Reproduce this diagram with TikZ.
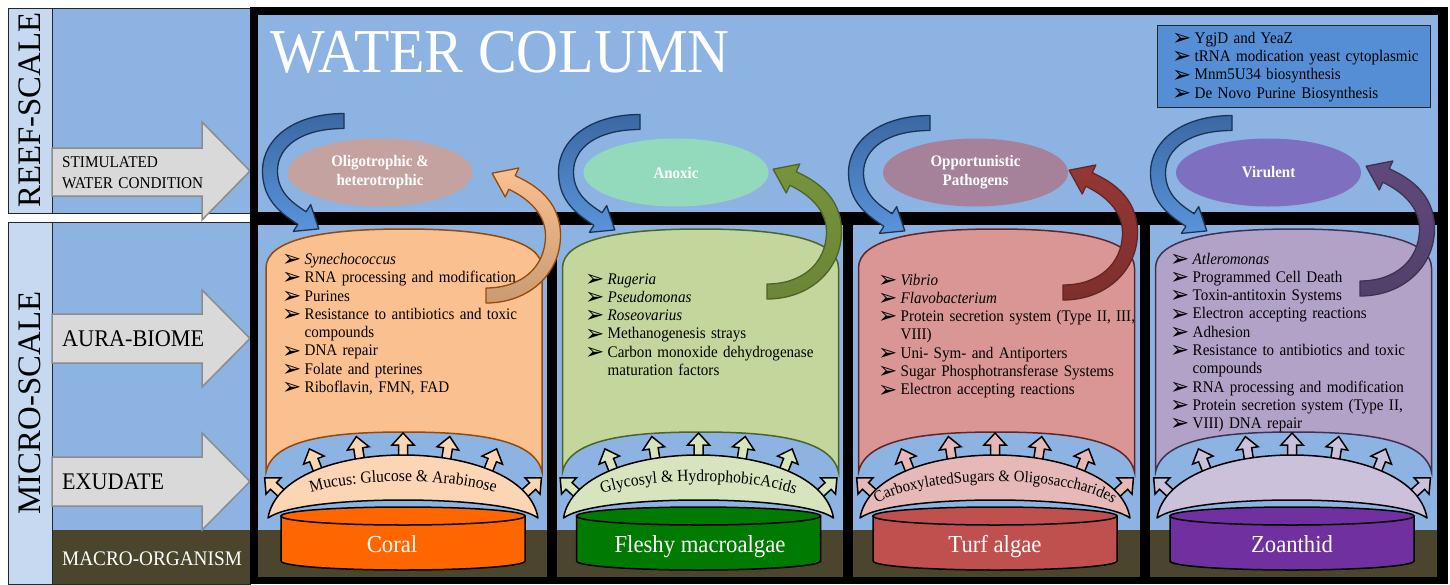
\documentclass[tikz,border=0pt]{standalone}
\usepackage{fontspec}
\setmainfont[FakeStretch=0.93]{Liberation Serif}
\newfontfamily\plainserif{Liberation Serif}
\newfontfamily\dejavu{DejaVu Sans}
\usetikzlibrary{shapes.geometric,decorations.text,decorations.markings}

\definecolor{wblue}{HTML}{8DB3E2}
\definecolor{colblue}{HTML}{C6D9F1}
\definecolor{mbrown}{HTML}{4A452C}
\definecolor{garrowfill}{HTML}{D9D9D9}
\definecolor{garrowln}{HTML}{8C8C8C}
\definecolor{boxblue}{HTML}{558ED5}
\definecolor{cfillA}{HTML}{FAC090}\definecolor{clineA}{HTML}{984807}
\definecolor{cfillB}{HTML}{C3D69B}\definecolor{clineB}{HTML}{4F6228}
\definecolor{cfillC}{HTML}{D99694}\definecolor{clineC}{HTML}{632523}
\definecolor{cfillD}{HTML}{B3A2C7}\definecolor{clineD}{HTML}{3F3151}
\definecolor{ellA}{HTML}{C4A29F}
\definecolor{ellB}{HTML}{93DABC}
\definecolor{ellC}{HTML}{A6819A}
\definecolor{ellD}{HTML}{7F6FC0}
\definecolor{cylA}{HTML}{FF6600}
\definecolor{cylB}{HTML}{007A00}
\definecolor{cylC}{HTML}{C0504D}
\definecolor{cylD}{HTML}{7030A0}
\definecolor{mfA}{HTML}{FCD5B5}
\definecolor{mfB}{HTML}{D7E4BD}
\definecolor{mfC}{HTML}{E6B9B8}
\definecolor{mfD}{HTML}{CCC1DA}
\definecolor{bluetop}{HTML}{3B68A3}
\definecolor{bluebot}{HTML}{5A94DB}
\definecolor{blueln}{HTML}{1B3454}
\definecolor{oraT}{HTML}{FAC090}\definecolor{oraB}{HTML}{C99B74}
\definecolor{grnT}{HTML}{77933C}\definecolor{grnB}{HTML}{6B8636}
\definecolor{redT}{HTML}{953735}\definecolor{redB}{HTML}{7E2F2D}
\definecolor{purT}{HTML}{60497B}\definecolor{purB}{HTML}{52406B}

\newcommand{\bu}{\makebox[22.5pt][l]{\raisebox{-2.2pt}{\dejavu\fontsize{23}{23}\selectfont\char"27A2}}}
\newcommand{\ind}{\hspace*{22.5pt}}
\newcommand{\crfont}{\fontsize{16.8}{16.8}\selectfont}
\newcommand{\crfontsm}{\fontsize{16}{16}\selectfont}

\newcommand\can[3]{%
\begin{scope}[shift={(#1,0)}]
\draw[fill=#2,draw=#3,line width=1.5pt] (-138,268) .. controls (-138,240) and (-84,229) .. (0,229)
 .. controls (84,229) and (138,240) .. (138,268) -- (138,472)
 .. controls (131,440) and (76,432) .. (0,432) .. controls (-76,432) and (-131,440) .. (-138,472) -- cycle;
\end{scope}}

\newcommand\cyl[5]{%
\begin{scope}[shift={(#1,0)}]
\draw[fill=#2,line width=1.5pt] (-122,516) -- (-122,561) .. controls (-122,566) and (-67.3,570) .. (0,570)
 .. controls (67.3,570) and (122,566) .. (122,561) -- (122,516) -- cycle;
\draw[fill=#2,line width=1.5pt] (0,516) ellipse [x radius=122, y radius=9];
\node[cyltext] (#5) at (#3,552) {#4};
\end{scope}}

\newcommand\sarr[1]{\draw[fill=#1,line width=1.5pt,line join=miter] (-4.5,3) -- (-4.5,-10) -- (-11,-10) -- (0,-22) -- (11,-10) -- (4.5,-10) -- (4.5,3) -- cycle;}

\newcommand\crescent[2]{%
\begin{scope}[shift={(#1,0)}]
\path[decorate,decoration={markings,
 mark=at position 0.09 with {\sarr{#2}},
 mark=at position 0.227 with {\sarr{#2}},
 mark=at position 0.364 with {\sarr{#2}},
 mark=at position 0.5 with {\sarr{#2}},
 mark=at position 0.636 with {\sarr{#2}},
 mark=at position 0.773 with {\sarr{#2}},
 mark=at position 0.91 with {\sarr{#2}}}]
 (-135,518) .. controls (-121,434) and (121,434) .. (135,518);
\draw[fill=#2,line width=1.5pt,line join=round] (-135,518) .. controls (-121,434) and (121,434) .. (135,518)
 .. controls (103,494) and (-103,494) .. (-135,518) -- cycle;
\end{scope}}

\newcommand\crtext[2]{%
\begin{scope}[shift={(#1,0)}]
\path[decorate,decoration={text along path,text={#2},text align=center}]
 (-127,516) .. controls (-114,470) and (114,470) .. (127,516);
\end{scope}}

\newcommand\bluearrow[2]{%
\begin{scope}[shift={(#1,#2)}]
\shadedraw[top color=bluetop,bottom color=bluebot,draw=blueln,line width=1.3pt,line join=round]
 (0,-7.5) .. controls (-49,-7.5) and (-81.5,17) .. (-81.5,50)
 .. controls (-81.5,79) and (-62.9,92.4) .. (-46.1,103.3)
 -- (-50.7,110.4) -- (-25.2,107.9) -- (-33.3,83.6) -- (-37.9,90.7)
 .. controls (-50.5,82.5) and (-66.5,72) .. (-66.5,50)
 .. controls (-66.5,25) and (-42,7.5) .. (0,7.5) -- cycle;
\end{scope}}

\newcommand\backarrow[5]{%
\begin{scope}[shift={(#1,#2)}]
\shadedraw[top color=#3,bottom color=#4,draw=#5,line width=1.3pt,line join=round]
 (0,7.5) .. controls (43,7.5) and (74.5,-22) .. (74.5,-60)
 .. controls (74.5,-97) and (45.5,-112.2) .. (29.2,-119.8)
 -- (32.8,-127.5) -- (6.1,-122.3) -- (19.2,-98.5) -- (22.8,-106.2)
 .. controls (34.6,-100.7) and (59.5,-86) .. (59.5,-60)
 .. controls (59.5,-28) and (35,-7.5) .. (0,-7.5) -- cycle;
\end{scope}}

\begin{document}
\begin{tikzpicture}[x=1pt,y=-1pt,
  listtext/.style={anchor=base west,inner sep=0pt,text width=300pt,align=left,
     font=\fontsize{16.2}{18.3}\selectfont},
  ellnode/.style={ellipse,minimum width=185pt,minimum height=68pt,inner sep=0pt,
     text=white,align=center,font=\bfseries\fontsize{16.1}{19}\selectfont},
  cyltext/.style={anchor=base,inner sep=0pt,text=white,font=\fontsize{24.4}{24.4}\selectfont},
  garrow/.style={fill=garrowfill,draw=garrowln,line width=1.5pt,line join=miter},
  sidelabel/.style={anchor=base west,inner sep=0pt},
  scalelabel/.style={rotate=90,inner sep=0pt,font=\plainserif\fontsize{32.8}{32.8}\selectfont}]
\useasboundingbox (0,0) rectangle (1450,584);
\fill[white] (0,0) rectangle (1450,584);

% ---------- left label columns ----------
\fill[wblue] (52,8) rectangle (250,213);
\fill[colblue] (8,8) rectangle (52,213);
\fill[wblue] (52,222) rectangle (250,530);
\fill[mbrown] (52,530) rectangle (250,584);
\fill[colblue] (8,222) rectangle (52,584);
\draw[black!85,line width=1pt] (8,8) rectangle (250,213) (52,8) -- (52,213);
\draw[black!85,line width=1pt] (8,222) rectangle (250,584) (52,222) -- (52,584);
\node[scalelabel] (reef) at (30,110) {REEF-SCALE};
\node[scalelabel] (micro) at (30,403) {MICRO-SCALE};

\draw[garrow] (52,148) -- (202,148) -- (202,122) -- (250,171) -- (202,220) -- (202,196) -- (52,196) -- cycle;
\draw[garrow] (52,314) -- (202,314) -- (202,290) -- (250,338.5) -- (202,387) -- (202,363) -- (52,363) -- cycle;
\draw[garrow] (52,457) -- (202,457) -- (202,433) -- (250,481.5) -- (202,530) -- (202,506) -- (52,506) -- cycle;
\node[sidelabel,align=left,text width=200pt,font=\fontsize{16.4}{21}\selectfont] (stim) at (62,167.5) {STIMULATED\\WATER CONDITION};
\node[sidelabel,font=\fontsize{23.9}{23.9}\selectfont] (aura) at (62,346) {AURA-BIOME};
\node[sidelabel,font=\fontsize{23.8}{23.8}\selectfont] (exu) at (62,489) {EXUDATE};
\node[sidelabel,text=white,font=\fontsize{20.7}{20.7}\selectfont] (macro) at (62,565) {MACRO-ORGANISM};

% ---------- main frame ----------
\fill[black] (250,7) rectangle (1448,584);
\fill[wblue] (258,15) rectangle (1438,212);
\foreach \l/\r in {258/547,557/843,853/1140,1150/1437}{
  \fill[wblue] (\l,225) rectangle (\r,530);
  \fill[mbrown] (\l,530) rectangle (\r,577);
}
\node[anchor=base west,inner sep=0pt,text=white,font=\fontsize{62.4}{62.4}\selectfont] (title) at (270,72) {WATER COLUMN};

\draw[fill=boxblue,draw=black!85,line width=1pt] (1157,25) rectangle (1430,107);
\node[listtext] (genes) at (1172,43.3) {\bu YgjD and YeaZ\\
\bu tRNA modication yeast cytoplasmic\\
\bu Mnm5U34 biosynthesis\\
\bu De Novo Purine Biosynthesis};

% ---------- condition ellipses ----------
\node[ellnode,fill=ellA] (e1) at (380,172.5) {Oligotrophic \&\\heterotrophic};
\node[ellnode,fill=ellB] (e2) at (676,172.5) {Anoxic};
\node[ellnode,fill=ellC] (e3) at (975.5,172.5) {Opportunistic\\Pathogens};
\node[ellnode,fill=ellD] (e4) at (1268.5,172.5) {Virulent};

% ---------- aura-biome cans ----------
\can{404}{cfillA}{clineA}
\can{700.5}{cfillB}{clineB}
\can{996.5}{cfillC}{clineC}
\can{1293.5}{cfillD}{clineD}

\node[listtext] (l1) at (282,264.4) {\bu\textit{Synechococcus}\\
\bu RNA processing and modification\\
\bu Purines\\
\bu Resistance to antibiotics and toxic\\
\ind compounds\\
\bu DNA repair\\
\bu Folate and pterines\\
\bu Riboflavin, FMN, FAD};
\node[listtext] (l2) at (585,284) {\bu\textit{Rugeria}\\
\bu\textit{Pseudomonas}\\
\bu\textit{Roseovarius}\\
\bu Methanogenesis strays\\
\bu Carbon monoxide dehydrogenase\\
\ind maturation factors};
\node[listtext] (l3) at (878,285) {\bu\textit{Vibrio}\\
\bu\textit{Flavobacterium}\\
\bu Protein secretion system (Type II, III,\\
\ind VIII)\\
\bu Uni- Sym- and Antiporters\\
\bu Sugar Phosphotransferase Systems\\
\bu Electron accepting reactions};
\node[listtext] (l4) at (1170,264) {\bu\textit{Atleromonas}\\
\bu Programmed Cell Death\\
\bu Toxin-antitoxin Systems\\
\bu Electron accepting reactions\\
\bu Adhesion\\
\bu Resistance to antibiotics and toxic\\
\ind compounds\\
\bu RNA processing and modification\\
\bu Protein secretion system (Type II,\\
\bu VIII) DNA repair};

% ---------- macro-organisms and exudates ----------
\cyl{403}{cylA}{-11}{Coral}{c1}
\cyl{698.5}{cylB}{1.5}{Fleshy macroalgae}{c2}
\cyl{995}{cylC}{0}{Turf algae}{c3}
\cyl{1292}{cylD}{0}{Zoanthid}{c4}

\crescent{403}{mfA}
\crescent{698.5}{mfB}
\crescent{995}{mfC}
\crescent{1292}{mfD}
\crtext{403}{|\crfont|Mucus:  Glucose  {\&}  Arabinose}
\crtext{698.5}{|\crfont|Glycosyl {\&} HydrophobicAcids}
\crtext{995}{|\crfontsm|CarboxylatedSugars {\&} Oligosaccharides}

% ---------- curved arrows ----------
\bluearrow{344}{121}
\bluearrow{640}{122}
\bluearrow{930}{123}
\bluearrow{1232}{123}
\backarrow{486}{295.5}{oraT}{oraB}{clineA}
\backarrow{767}{291.5}{grnT}{grnB}{clineB}
\backarrow{1063}{292.5}{redT}{redB}{clineC}
\backarrow{1360}{288.5}{purT}{purB}{clineD}
\end{tikzpicture}
\end{document}
